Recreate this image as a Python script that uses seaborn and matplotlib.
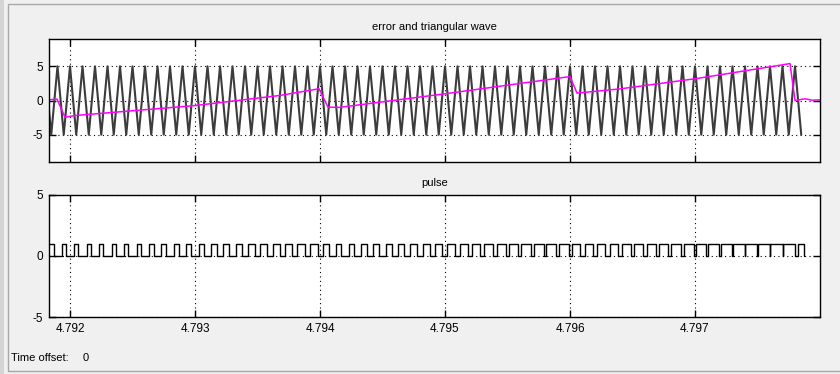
import numpy as np
import pandas as pd
import seaborn as sns
import matplotlib
matplotlib.use("Agg")
import matplotlib.pyplot as plt
from matplotlib.patches import Rectangle

# ---------------- data ----------------
# error signal breakpoints (time in s, value)
err_time = [4.791832, 4.791896, 4.79196, 4.79204, 4.793, 4.79368, 4.793992,
            4.794064, 4.79416, 4.795, 4.79592, 4.796, 4.796056, 4.7964,
            4.797008, 4.79776, 4.7978, 4.79788, 4.797936, 4.798]
err_value = [0.1, 0.2, -2.45, -2.2, -0.74, 0.74, 1.72,
             -0.98, -1.0, 0.98, 3.3, 3.5, 1.08, 1.7,
             3.2, 5.4, 0.0, 0.25, 0.05, 0.1]

# triangular carrier: 10 kHz, +/-5 amplitude, peak at 4.792 s
carrier_period = 1e-4
carrier_amp = 5.0
carrier_start = 4.7918
carrier_halfperiods = 122

xticks = [4.792, 4.793, 4.794, 4.795, 4.796, 4.797]
xtick_labels = ["4.792", "4.793", "4.794", "4.795", "4.796", "4.797"]
yticks = [-5, 0, 5]
ytick_labels = ["-5", "0", "5"]
xlim = (4.791832, 4.798)

# ---------------- series building ----------------
tri_t = carrier_start + np.arange(carrier_halfperiods) * carrier_period / 2
tri_v = np.array([carrier_amp, -carrier_amp] * (carrier_halfperiods // 2))
tri_df = pd.DataFrame({"t": tri_t, "v": tri_v})
err_df = pd.DataFrame({"t": err_time, "v": err_value})

# pulse = error compared with the carrier (high around each valley)
pt, pv = [xlim[0] - 1e-4], [0]
for tv in tri_t[tri_v < 0]:
    e = np.interp(tv, err_time, err_value)
    d = np.clip((e + carrier_amp) / (2 * carrier_amp), 0, 1)
    pt += [tv - d * carrier_period / 2, tv + d * carrier_period / 2]
    pv += [1, 0]
pulse_df = pd.DataFrame({"t": pt, "v": pv})

# ---------------- figure ----------------
sns.set_theme(style="white")
plt.rcParams["font.family"] = ["Liberation Sans", "DejaVu Sans"]
fig = plt.figure(figsize=(8.4, 3.74), dpi=100, facecolor="#f0f0f0")

W, H = 840.0, 374.0
def ax_rect(l, t, r, b):
    return [l / W, 1 - b / H, (r - l) / W, (b - t) / H]

# panel frame
fig.patches.append(Rectangle((8 / W, 1 - 371 / H), 1.0, (371 - 4) / H,
                             transform=fig.transFigure, fill=False,
                             edgecolor="#a8a8a8", lw=1.0))
fig.patches.append(Rectangle((0, 0), 4 / W, 1, transform=fig.transFigure,
                             facecolor="#d4d4d4", edgecolor="none"))

ax1 = fig.add_axes(ax_rect(49, 39, 820, 162))
ax2 = fig.add_axes(ax_rect(49, 195, 820, 317))

sns.lineplot(data=tri_df, x="t", y="v", ax=ax1, color="#3c3c3c", lw=1.5,
             estimator=None, sort=False)
sns.lineplot(data=err_df, x="t", y="v", ax=ax1, color="#ff00ff", lw=1.1,
             estimator=None, sort=False)
sns.lineplot(data=pulse_df, x="t", y="v", ax=ax2, color="black", lw=1.0,
             estimator=None, sort=False, drawstyle="steps-post")

for ax, ylim in ((ax1, (-9, 9)), (ax2, (-5, 5))):
    ax.set_facecolor("white")
    ax.set_xlim(*xlim)
    ax.set_ylim(*ylim)
    ax.set_xticks(xticks)
    ax.set_yticks(yticks)
    ax.set_yticklabels(ytick_labels)
    ax.set_xlabel("")
    ax.set_ylabel("")
    ax.grid(True, color="black", linestyle=(0, (1, 3)), lw=0.8)
    ax.tick_params(direction="in", length=5, width=1, color="black",
                   top=True, right=True, left=True, bottom=True,
                   labelsize=8.5, pad=4, labelcolor="black")
    for s in ax.spines.values():
        s.set_color("black")
        s.set_linewidth(1.0)
        s.set_visible(True)

ax1.set_xticklabels([])
ax2.set_xticklabels(xtick_labels)

fig.text(434.5 / W, 1 - 27 / H, "error and triangular wave", ha="center",
         va="center", fontsize=8, color="black")
fig.text(434.5 / W, 1 - 183 / H, "pulse", ha="center", va="center",
         fontsize=8, color="black")
fig.text(11 / W, 1 - 358 / H, "Time offset:", ha="left", va="center",
         fontsize=8, color="black")
fig.text(83 / W, 1 - 358 / H, "0", ha="left", va="center",
         fontsize=8, color="black")

fig.savefig("out.png", dpi=100, facecolor=fig.get_facecolor())
